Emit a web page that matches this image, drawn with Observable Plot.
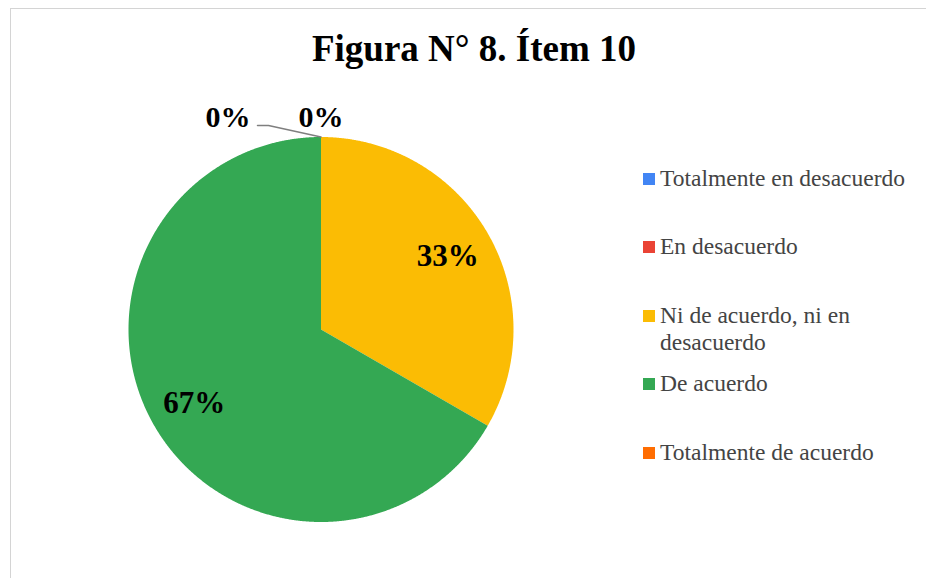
<!DOCTYPE html>
<html>
<head>
<meta charset="utf-8">
<script src="https://cdn.jsdelivr.net/npm/d3@7"></script>
<script src="https://cdn.jsdelivr.net/npm/@observablehq/plot@0.6"></script>
<style>
  html, body { margin: 0; padding: 0; background: #fff; }
  #wrap { position: relative; width: 926px; height: 578px; overflow: hidden; background: #fff; }
  #frame { position: absolute; left: 10px; top: 8px; width: 930px; height: 580px;
           border-left: 1.5px solid #d4d4d4; border-top: 1.5px solid #d4d4d4; }
  #chart { position: absolute; left: 0; top: 0; }
  #title { position: absolute; left: 0; width: 948px; top: 30px; text-align: center;
           font-family: "Liberation Serif", "Times New Roman", serif; font-weight: bold;
           font-size: 37px; line-height: 37px; color: #000; white-space: nowrap; }
  .lg { position: absolute; left: 660px; font-family: "Liberation Serif", "Times New Roman", serif;
        font-size: 23.5px; line-height: 27px; color: #444; white-space: nowrap; }
  .sw { position: absolute; left: -17px; top: 8px; width: 12px; height: 12px; }
</style>
</head>
<body>
<div id="wrap">
  <div id="frame"></div>
  <div id="chart"></div>
  <div id="title">Figura N° 8. Ítem 10</div>
  <div id="legend"></div>
</div>
<script>
// ---- data ----
const categories = ["Totalmente en desacuerdo", "En desacuerdo", "Ni de acuerdo, ni en desacuerdo", "De acuerdo", "Totalmente de acuerdo"];
const values = [0, 0, 1, 2, 0];
const percentLabels = ["0%", "0%", "33%", "67%", "0%"];
const colors = ["#4285F4", "#EA4335", "#FBBC04", "#34A853", "#FF6D01"];
const legendLabels = ["Totalmente en desacuerdo", "En desacuerdo", "Ni de acuerdo, ni en<br>desacuerdo", "De acuerdo", "Totalmente de acuerdo"];

// ---- layout ----
const W = 926, H = 578;
const cx = 320.5, cy = 329, R = 192.5;

const total = d3.sum(values);
let acc = 0;
const slices = categories.map((c, i) => {
  const a0 = acc / total * 2 * Math.PI;
  acc += values[i];
  const a1 = acc / total * 2 * Math.PI;
  return {cat: c, value: values[i], a0, a1, label: percentLabels[i], i};
});

// polygon rows for each non-empty slice
const rows = [];
for (const s of slices) {
  if (s.value <= 0) continue;
  rows.push({cat: s.cat, x: 0, y: 0});
  const n = Math.max(2, Math.ceil((s.a1 - s.a0) / (Math.PI / 720)));
  for (let k = 0; k <= n; k++) {
    const a = s.a0 + (s.a1 - s.a0) * k / n;
    rows.push({cat: s.cat, x: Math.sin(a), y: Math.cos(a)});
  }
  rows.push({cat: s.cat, x: 0, y: 0});
}

// labels
const big = slices.filter(s => s.value > 0).map(s => {
  const a = (s.a0 + s.a1) / 2, r = 0.76;
  return {x: r * Math.sin(a), y: r * Math.cos(a), text: s.label};
});
const zeroSlices = slices.filter(s => s.value === 0);
const zTop = zeroSlices[0];
const zLeft = zeroSlices[zeroSlices.length - 1];
const zeroLabels = [
  {x: 1.10 * Math.sin(zTop.a0), y: 1.10 * Math.cos(zTop.a0), text: zTop.label},
  {x: 1.10 * Math.sin(zLeft.a0) - 93 / R, y: 1.10 * Math.cos(zLeft.a0), text: zLeft.label}
];
const edge = {x: Math.sin(zLeft.a0), y: Math.cos(zLeft.a0)};
const leader = [
  {x: zeroLabels[1].x + 29.5 / R, y: edge.y + 11.5 / R},
  {x: zeroLabels[1].x + 40.5 / R, y: edge.y + 11.5 / R},
  {x: edge.x, y: edge.y}
];

const font = "Liberation Serif, Times New Roman, serif";
const chart = Plot.plot({
  width: W, height: H,
  marginTop: 0, marginRight: 0, marginBottom: 0, marginLeft: 0,
  x: {domain: [-cx / R, (W - cx) / R], range: [0, W], axis: null},
  y: {domain: [-(H - cy) / R, cy / R], range: [H, 0], axis: null},
  color: {type: "ordinal", domain: categories, range: colors},
  style: {background: "transparent"},
  marks: [
    Plot.line(rows, {x: "x", y: "y", z: "cat", fill: "cat", stroke: "none", curve: "linear"}),
    Plot.line(leader, {x: "x", y: "y", stroke: "#7f7f7f", strokeWidth: 1.5}),
    Plot.text(big, {x: "x", y: "y", text: "text", fontSize: 31, fontWeight: "bold", fontFamily: font, fill: "#000", textAnchor: "middle", lineAnchor: "middle"}),
    Plot.text(zeroLabels, {x: "x", y: "y", text: "text", fontSize: 30, fontWeight: "bold", fontFamily: font, fill: "#000", textAnchor: "middle", lineAnchor: "middle"})
  ]
});
document.getElementById("chart").appendChild(chart);

// legend
const legendTops = [164.6, 232.6, 301.6, 369.6, 438.6];
const lg = document.getElementById("legend");
categories.forEach((c, i) => {
  const d = document.createElement("div");
  d.className = "lg";
  d.style.top = legendTops[i] + "px";
  d.innerHTML = `<span class="sw" style="background:${colors[i]}"></span>${legendLabels[i]}`;
  lg.appendChild(d);
});
</script>
</body>
</html>
